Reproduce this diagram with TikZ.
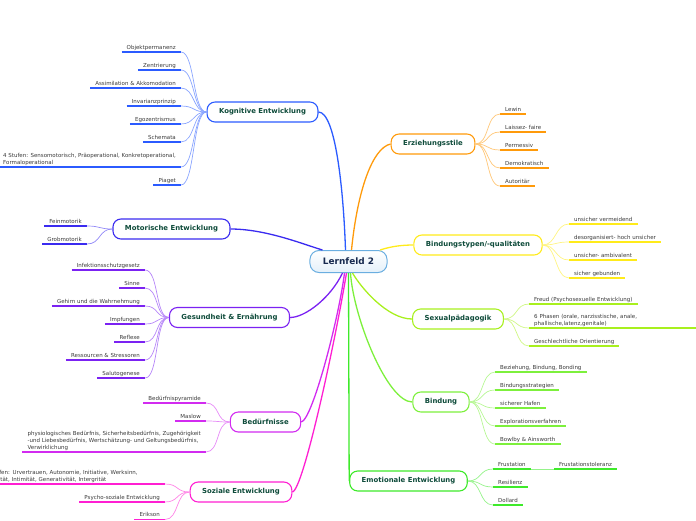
\documentclass[tikz,border=0pt]{standalone}
\usepackage{fontspec}
\setmainfont{DejaVu Sans}
\definecolor{lfc}{HTML}{6AAEE0}
\definecolor{kog}{HTML}{2B5BFF}
\definecolor{mot}{HTML}{3A2BF0}
\definecolor{ges}{HTML}{7B22F2}
\definecolor{bed}{HTML}{D22BF0}
\definecolor{soz}{HTML}{FF1FD2}
\definecolor{erz}{HTML}{FF9A0A}
\definecolor{bty}{HTML}{FFEB1A}
\definecolor{sex}{HTML}{A8F01E}
\definecolor{bin}{HTML}{7DF03C}
\definecolor{emo}{HTML}{3EEA2A}
\definecolor{lftext}{HTML}{172A4F}
\definecolor{brtext}{HTML}{0E4B3A}
\definecolor{lvtext}{HTML}{3A3A3A}
\begin{document}
\begin{tikzpicture}[x=1pt,y=-1pt,
    rootbox/.style={draw=lfc,line width=1pt,rounded corners=9pt,top color=white,bottom color=lfc!18,
        minimum height=22pt,inner xsep=13pt,font=\bfseries\fontsize{8.9}{10}\selectfont,text=lftext},
    branch/.style={draw=#1,line width=1.1pt,rounded corners=8pt,fill=white,minimum height=20pt,
        inner xsep=12pt,font=\bfseries\fontsize{6.9}{8}\selectfont,text=brtext},
    leaf/.style={inner xsep=5pt,inner ysep=1.5pt,text height=4pt,text depth=1.2pt,
        font=\fontsize{5.5}{7}\selectfont,text=lvtext},
    multi/.style={text height=,text depth=,align=left},
    mainline/.style={draw=#1,line width=1.3pt},
    twig/.style={draw=#1!55!white,line width=0.7pt},
    uline/.style={draw=#1,line width=1.6pt}]
    \useasboundingbox (0,0) rectangle (696,520);
    \clip (0,0) rectangle (696,520);

    \node[rootbox] (lf) at (348.5,261.5) {Lernfeld 2};

    \node[branch=kog] (kog) at (262.5,112) {Kognitive Entwicklung};
    \node[branch=mot] (mot) at (171.5,229) {Motorische Entwicklung};
    \node[branch=ges] (ges) at (229.5,317.5) {Gesundheit \& Ernährung};
    \node[branch=bed] (bed) at (265.5,422) {Bedürfnisse};
    \node[branch=soz] (soz) at (241,492) {Soziale Entwicklung};
    \node[branch=erz] (erz) at (433,144) {Erziehungsstile};
    \node[branch=bty] (bty) at (478,245) {Bindungstypen/-qualitäten};
    \node[branch=sex] (sex) at (458,319) {Sexualpädagogik};
    \node[branch=bin] (bin) at (441,402) {Bindung};
    \node[branch=emo] (emo) at (408.5,481) {Emotionale Entwicklung};

    \draw[mainline=kog] (kog.east) .. controls +(17,0) and +(-2,-60) .. ([xshift=-3pt]lf.north);
    \draw[mainline=mot] (mot.east) .. controls +(35,0) and +(-20,-6) .. ([xshift=13pt]lf.north west);
    \draw[mainline=ges] (ges.east) .. controls +(15,0) and +(-12,25) .. ([xshift=-6pt]lf.south);
    \draw[mainline=bed] (bed.east) .. controls +(11,-2) and +(-6,47) .. ([xshift=-4pt]lf.south);
    \draw[mainline=soz] (soz.east) .. controls +(11,-2) and +(-11,67) .. ([xshift=-2pt]lf.south);
    \draw[mainline=erz] ([xshift=3pt]lf.north) .. controls +(6,-60) and +(-18,4) .. (erz.west);
    \draw[mainline=bty] (lf.20) .. controls +(12,-4) and +(-10,0) .. (bty.west);
    \draw[mainline=sex] ([xshift=4pt]lf.south) .. controls +(8,14) and +(-25,0) .. (sex.west);
    \draw[mainline=bin] ([xshift=2pt]lf.south) .. controls +(3,45) and +(-25,0) .. (bin.west);
    \draw[mainline=emo] (lf.south) -- (emo.west);

    \foreach \n/\y/\t in {k1/52/Objektpermanenz,k2/70/Zentrierung,k3/88/Assimilation \& Akkomodation,
        k4/106/Invarianzprinzip,k5/124/Egozentrismus,k6/142/Schemata,k8/185/Piaget}
        \node[leaf,anchor=south east] (\n) at (181,\y) {\t};
    \node[leaf,multi,anchor=south east] (k7) at (181,167)
        {4 Stufen: Sensomotorisch, Präoperational, Konkretoperational,\\Formaloperational};
    \foreach \n in {k1,k2,k3,k4,k5,k6,k7,k8} {
        \draw[uline=kog] (\n.south west) -- (\n.south east);
        \draw[twig=kog] (kog.west) .. controls +(-14,0) and +(14,0) .. (\n.south east);
    }

    \foreach \n/\y/\t in {m1/226/Feinmotorik,m2/244/Grobmotorik}
        \node[leaf,anchor=south east] (\n) at (87,\y) {\t};
    \foreach \n in {m1,m2} {
        \draw[uline=mot] (\n.south west) -- (\n.south east);
        \draw[twig=mot] (mot.west) .. controls +(-14,0) and +(14,0) .. (\n.south east);
    }

    \foreach \n/\y/\t in {g1/270/Infektionsschutzgesetz,g2/288/Sinne,g3/306/Gehirn und die Wahrnehmung,
        g4/324/Impfungen,g5/342/Reflexe,g6/360/Ressourcen \& Stressoren,g7/378/Salutogenese}
        \node[leaf,anchor=south east] (\n) at (145,\y) {\t};
    \foreach \n in {g1,g2,g3,g4,g5,g6,g7} {
        \draw[uline=ges] (\n.south west) -- (\n.south east);
        \draw[twig=ges] (ges.west) .. controls +(-14,0) and +(14,0) .. (\n.south east);
    }

    \foreach \n/\y/\t in {b1/403/Bedürfnispyramide,b2/421/Maslow}
        \node[leaf,anchor=south east] (\n) at (206,\y) {\t};
    \node[leaf,multi,anchor=south east] (b3) at (206,452)
        {physiologisches Bedürfnis, Sicherheitsbedürfnis, Zugehörigkeit\\-und Liebesbedürfnis, Wertschätzung- und Geltungsbedürfnis,\\Verwirklichung};
    \foreach \n in {b1,b2,b3} {
        \draw[uline=bed] (\n.south west) -- (\n.south east);
        \draw[twig=bed] (bed.west) .. controls +(-14,0) and +(14,0) .. (\n.south east);
    }

    \node[leaf,multi,text width=175pt,anchor=south east] (s1) at (165,484)
        {8 Stufen: Urvertrauen, Autonomie, Initiative, Werksinn,\\Identität, Intimität, Generativität, Intergrität};
    \foreach \n/\y/\t in {s2/502/Psycho-soziale Entwicklung,s3/519.5/Erikson}
        \node[leaf,anchor=south east] (\n) at (165,\y) {\t};
    \foreach \n in {s1,s2,s3} {
        \draw[uline=soz] (\n.south west) -- (\n.south east);
        \draw[twig=soz] (soz.west) .. controls +(-14,0) and +(14,0) .. (\n.south east);
    }

    \foreach \n/\y/\t in {e1/114/Lewin,e2/132/Laissez- faire,e3/150/Permessiv,e4/168/Demokratisch,e5/186/Autoritär}
        \node[leaf,anchor=south west] (\n) at (500,\y) {\t};
    \foreach \n in {e1,e2,e3,e4,e5} {
        \draw[uline=erz] (\n.south west) -- (\n.south east);
        \draw[twig=erz] (erz.east) .. controls +(14,0) and +(-14,0) .. (\n.south west);
    }

    \foreach \n/\y/\t in {t1/224/unsicher vermeidend,t2/242/desorganisiert- hoch unsicher,
        t3/260/unsicher- ambivalent,t4/278/sicher gebunden}
        \node[leaf,anchor=south west] (\n) at (569,\y) {\t};
    \foreach \n in {t1,t2,t3,t4} {
        \draw[uline=bty] (\n.south west) -- (\n.south east);
        \draw[twig=bty] (bty.east) .. controls +(14,0) and +(-14,0) .. (\n.south west);
    }

    \foreach \n/\y/\t in {x1/304/Freud (Psychosexuelle Entwicklung),x3/346/Geschlechtliche Orientierung}
        \node[leaf,anchor=south west] (\n) at (529,\y) {\t};
    \node[leaf,multi,text width=170pt,anchor=south west] (x2) at (529,328)
        {6 Phasen (orale, narzisstische, anale,\\phallische,latenz,genitale)};
    \foreach \n in {x1,x2,x3} {
        \draw[uline=sex] (\n.south west) -- (\n.south east);
        \draw[twig=sex] (sex.east) .. controls +(14,0) and +(-14,0) .. (\n.south west);
    }

    \foreach \n/\y/\t in {n1/372/{Beziehung, Bindung, Bonding},n2/390/Bindungsstrategien,n3/408/sicherer Hafen,
        n4/426/Explorationsverfahren,n5/444/Bowlby \& Ainsworth}
        \node[leaf,anchor=south west] (\n) at (495,\y) {\t};
    \foreach \n in {n1,n2,n3,n4,n5} {
        \draw[uline=bin] (\n.south west) -- (\n.south east);
        \draw[twig=bin] (bin.east) .. controls +(14,0) and +(-14,0) .. (\n.south west);
    }

    \foreach \n/\y/\t in {f1/469/Frustation,f2/487/Resilienz,f3/505/Dollard}
        \node[leaf,anchor=south west] (\n) at (493,\y) {\t};
    \node[leaf,anchor=south west] (f4) at (554,469) {Frustationstoleranz};
    \foreach \n in {f1,f2,f3} {
        \draw[uline=emo] (\n.south west) -- (\n.south east);
        \draw[twig=emo] (emo.east) .. controls +(14,0) and +(-14,0) .. (\n.south west);
    }
    \draw[uline=emo] (f4.south west) -- (f4.south east);
    \draw[twig=emo] (f1.south east) -- (f4.south west);
\end{tikzpicture}
\end{document}
